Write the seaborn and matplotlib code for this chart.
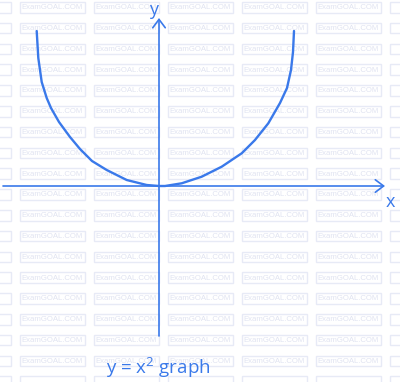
import numpy as np
import pandas as pd
import seaborn as sns
import matplotlib
matplotlib.use("Agg")
import matplotlib.pyplot as plt
from matplotlib.patches import Rectangle

# ---- data (origin at the axes crossing) ----
left_x = [-122.3, -120.7, -117.3, -112.3, -108.0, -100.0, -89.0, -79.0, -67.0, -52.3, -32.3, -12.3, 0.0]
left_y = [155.0, 128.0, 104.0, 88.0, 78.0, 64.0, 49.0, 37.0, 25.0, 16.0, 6.0, 1.0, 0.0]
right_x = [0.0, 6.0, 22.7, 42.7, 62.7, 82.7, 96.0, 109.3, 121.0, 128.0, 132.0, 134.0, 135.0]
right_y = [0.0, 0.0, 2.7, 9.3, 19.3, 32.7, 46.0, 62.7, 83.0, 98.0, 116.0, 134.0, 155.0]

x_axis_range = [-156, 226]
y_axis_range = [-150, 168]
axis_labels = ["x", "y"]
caption = "y = x$^2$ graph"
watermark = "ExamGOAL.COM"

BLUE = "#3a79ea"

sns.set_theme(style="white")
plt.rcParams['font.family'] = ['Open Sans', 'DejaVu Sans']
plt.rcParams['mathtext.fontset'] = 'custom'
plt.rcParams['mathtext.rm'] = 'Open Sans'

W, H = 400, 382
fig = plt.figure(figsize=(W / 100, H / 100), dpi=100)

# background watermark layer (pixel coordinates)
bg = fig.add_axes([0, 0, 1, 1])
bg.set_xlim(0, W)
bg.set_ylim(H, 0)
bg.axis("off")
for col in range(-1, 6):
    x0 = 20 + 74 * col
    for row in range(0, 19):
        y0 = 2 + 20.8 * row
        bg.add_patch(Rectangle((x0, y0), 65, 10.5, fill=False, ec="#e7eaf6", lw=1.0))
        if 0 <= col <= 4 and row <= 17:
            bg.text(x0 + 32.5, y0 + 5.6, watermark, ha="center", va="center",
                    fontsize=5.6, color="#e0e3f1", family="Liberation Sans")

# main layer in data coordinates
ax = fig.add_axes([0, 0, 1, 1])
ax.patch.set_alpha(0)
ax.set_xlim(-159, 241)
ax.set_ylim(-196, 186)
ax.axis("off")

df_l = pd.DataFrame({"x": left_x, "y": left_y})
df_r = pd.DataFrame({"x": right_x, "y": right_y})
sns.lineplot(data=df_l, x="x", y="y", ax=ax, color=BLUE, lw=1.7, sort=False, estimator=None)
sns.lineplot(data=df_r, x="x", y="y", ax=ax, color=BLUE, lw=1.7, sort=False, estimator=None)

arrow = dict(arrowstyle="->,head_length=0.6,head_width=0.45", color=BLUE, lw=1.2,
             mutation_scale=10, shrinkA=0, shrinkB=0)
ax.annotate("", xy=(x_axis_range[1], 0), xytext=(x_axis_range[0], 0), arrowprops=arrow)
ax.annotate("", xy=(0, y_axis_range[1]), xytext=(0, y_axis_range[0]), arrowprops=arrow)

ax.text(231, -16, axis_labels[0], ha="center", va="center", fontsize=13, color=BLUE)
ax.text(-5, 176, axis_labels[1], ha="center", va="center", fontsize=13, color=BLUE)
ax.text(-1, -182, caption, ha="center", va="center", fontsize=13.5, color=BLUE)

fig.savefig("out.png", dpi=100)
